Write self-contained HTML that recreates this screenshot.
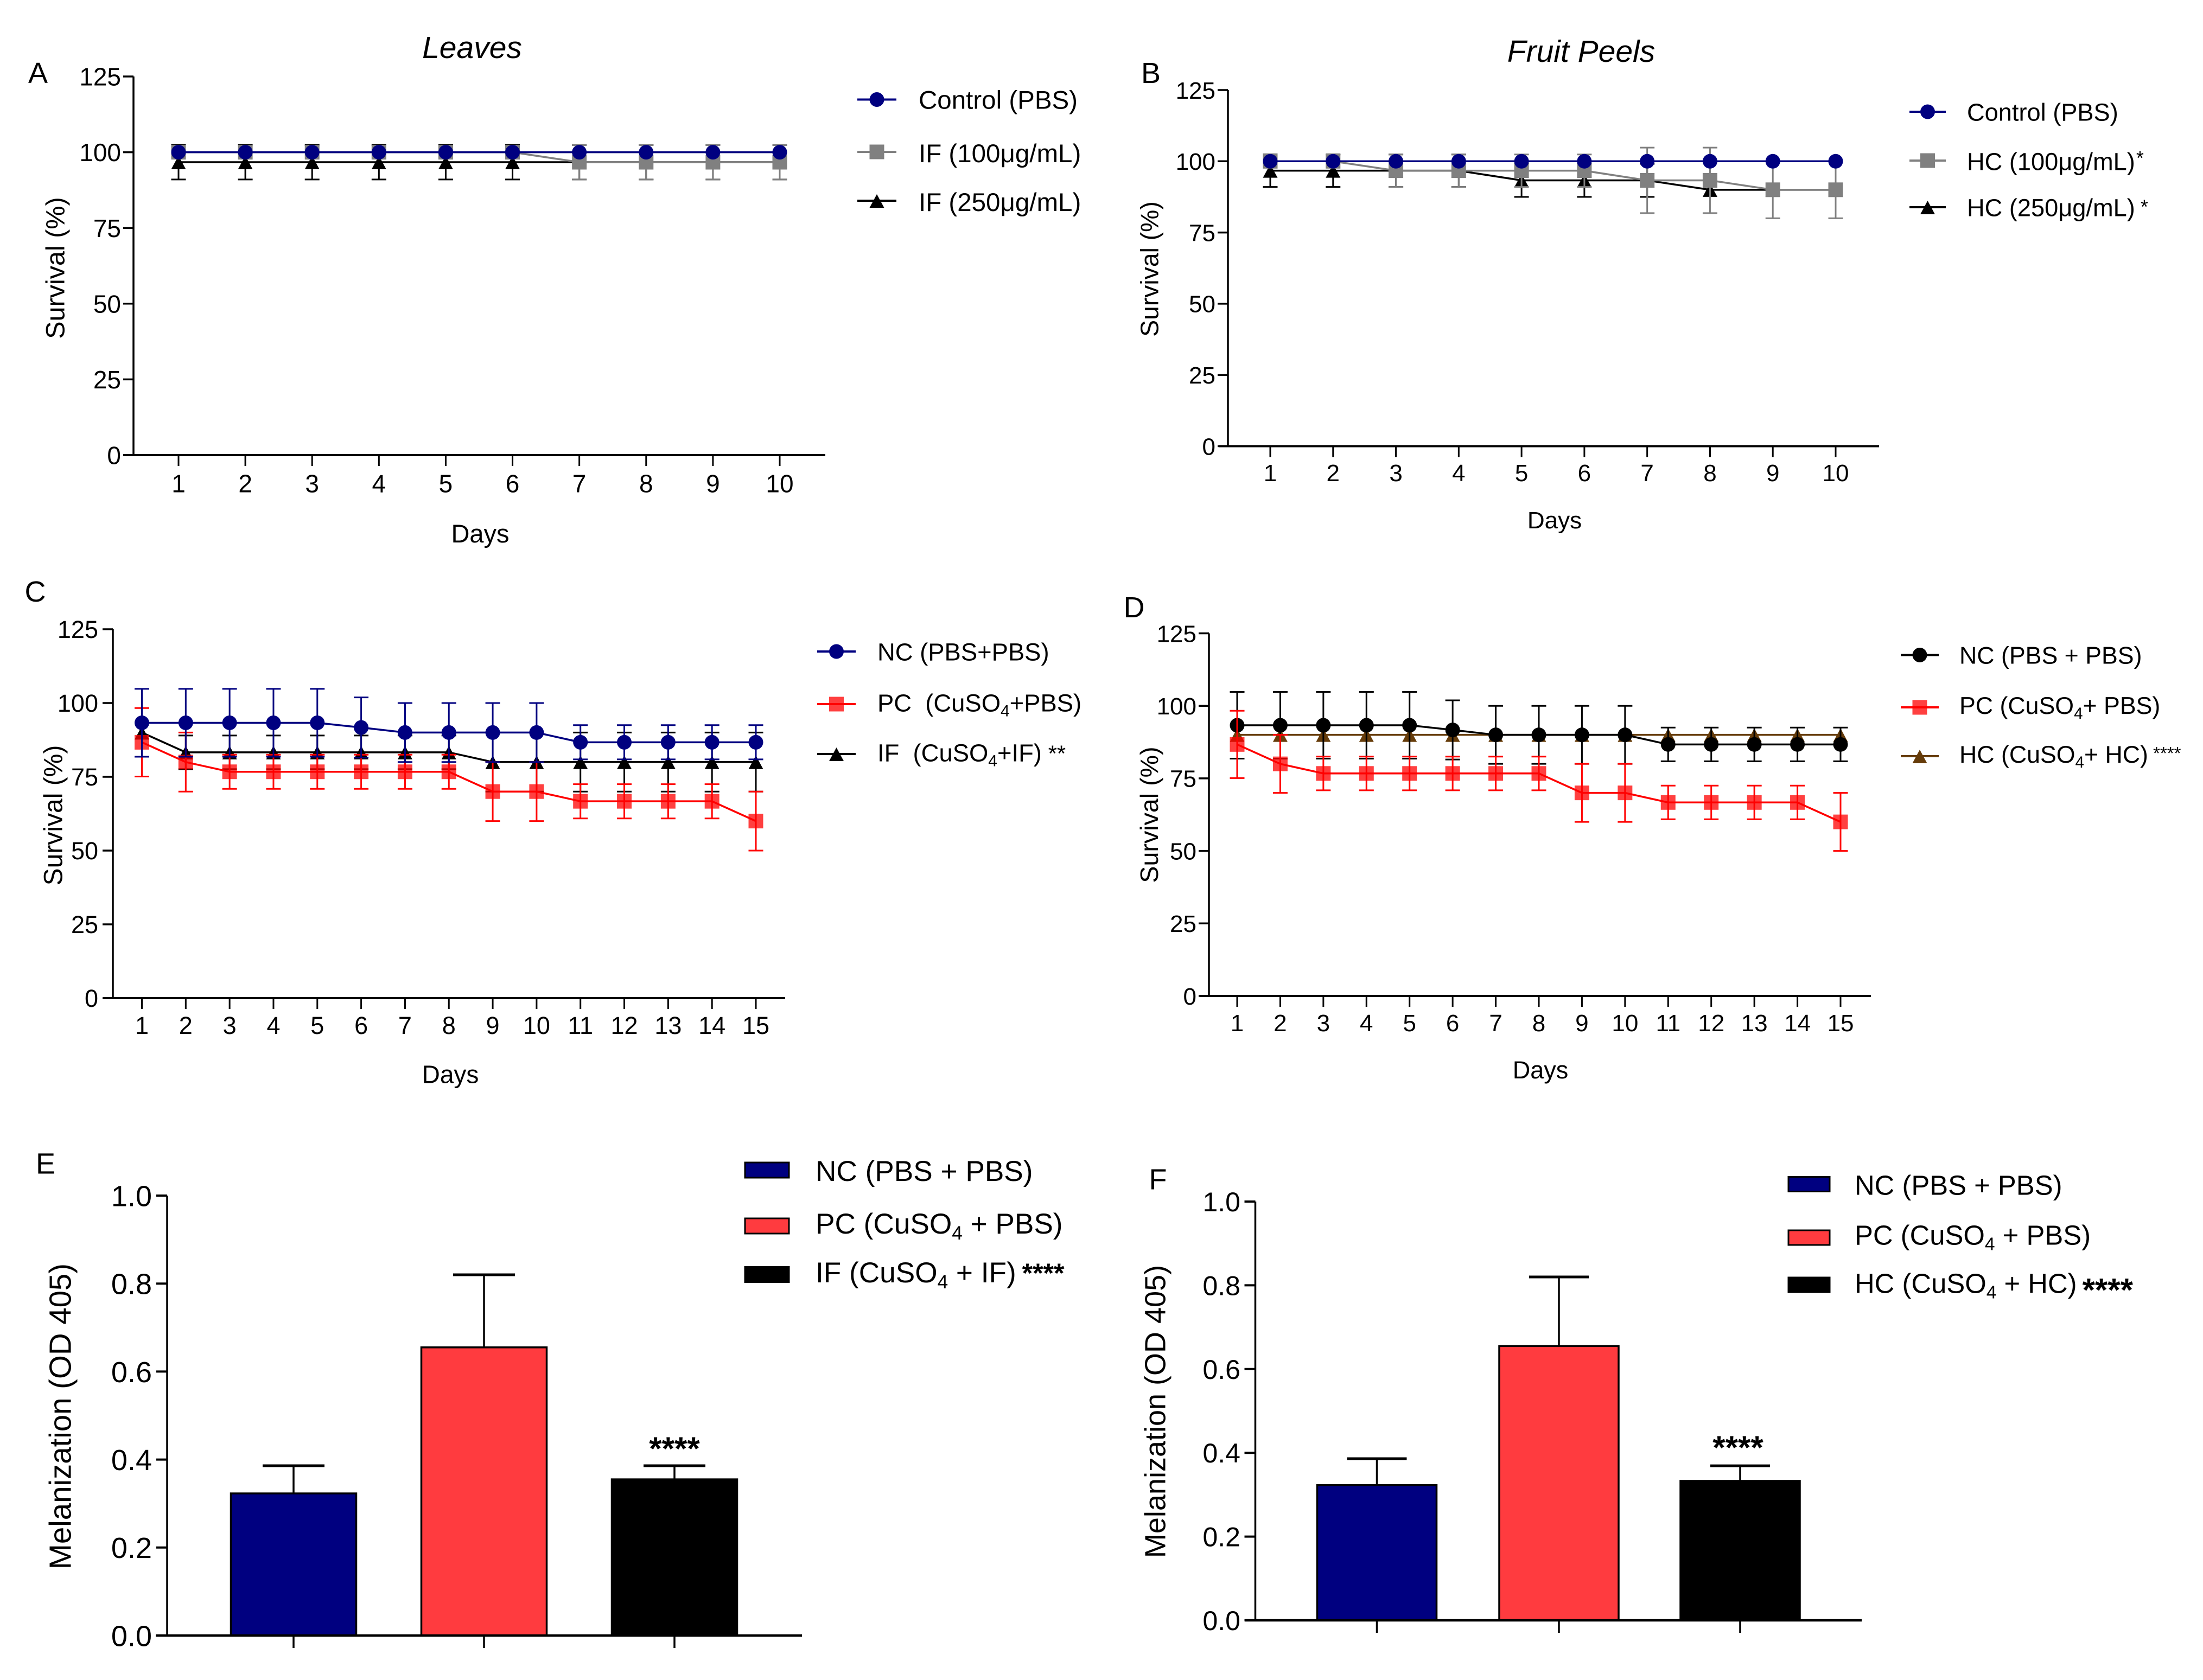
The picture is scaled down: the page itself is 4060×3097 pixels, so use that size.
<!DOCTYPE html>
<html lang="en">
<head>
<meta charset="utf-8">
<title>Survival and melanization charts</title>
<style>
html,body{margin:0;padding:0;background:#fff;width:4060px;height:3097px;overflow:hidden}
svg{display:block}
text{font-family:"Liberation Sans",Arial,sans-serif;fill:#000}
</style>
</head>
<body>
<svg id="figure" xmlns="http://www.w3.org/2000/svg" width="4060" height="3097" viewBox="0 0 4060 3097"></svg>
<script>
// ---------- shared tick labels ----------
const survivalTicks = [0, 25, 50, 75, 100, 125];
const melanizationTicks = [0, 0.2, 0.4, 0.6, 0.8, 1.0];
const days10 = [1, 2, 3, 4, 5, 6, 7, 8, 9, 10];
const days15 = [1, 2, 3, 4, 5, 6, 7, 8, 9, 10, 11, 12, 13, 14, 15];

// ---------- panel A values ----------
const aControl = [100, 100, 100, 100, 100, 100, 100, 100, 100, 100];
const aControlErr = [0, 0, 0, 0, 0, 0, 0, 0, 0, 0];
const aIF100 = [100, 100, 100, 100, 100, 100, 96.7, 96.7, 96.7, 96.7];
const aIF100Err = [0, 0, 0, 0, 0, 0, 5.7, 5.7, 5.7, 5.7];
const aIF250 = [96.7, 96.7, 96.7, 96.7, 96.7, 96.7, 96.7, 96.7, 96.7, 96.7];
const aIF250Err = [5.7, 5.7, 5.7, 5.7, 5.7, 5.7, 5.7, 5.7, 5.7, 5.7];

// ---------- panel B values ----------
const bControl = [100, 100, 100, 100, 100, 100, 100, 100, 100, 100];
const bControlErr = [0, 0, 0, 0, 0, 0, 0, 0, 0, 0];
const bHC100 = [100, 100, 96.7, 96.7, 96.7, 96.7, 93.3, 93.3, 90, 90];
const bHC100Err = [0, 0, 5.7, 5.7, 5.7, 5.7, 11.5, 11.5, 10, 10];
const bHC250 = [96.7, 96.7, 96.7, 96.7, 93.3, 93.3, 93.3, 90, 90, 90];
const bHC250Err = [5.7, 5.7, 5.7, 5.7, 5.8, 5.8, 5.8, 0, 0, 0];

// ---------- panel C values ----------
const cNC = [93.3, 93.3, 93.3, 93.3, 93.3, 91.7, 90, 90, 90, 90, 86.7, 86.7, 86.7, 86.7, 86.7];
const cNCErr = [11.5, 11.5, 11.5, 11.5, 11.5, 10.2, 10, 10, 10, 10, 5.8, 5.8, 5.8, 5.8, 5.8];
const cPC = [86.7, 80, 76.7, 76.7, 76.7, 76.7, 76.7, 76.7, 70, 70, 66.7, 66.7, 66.7, 66.7, 60];
const cPCErr = [11.6, 10, 5.8, 5.8, 5.8, 5.8, 5.8, 5.8, 10, 10, 5.8, 5.8, 5.8, 5.8, 10];
const cIF = [90, 83.3, 83.3, 83.3, 83.3, 83.3, 83.3, 83.3, 80, 80, 80, 80, 80, 80, 80];
const cIFErr = [0, 5.7, 5.7, 5.7, 5.7, 5.7, 5.7, 5.7, 10, 10, 10, 10, 10, 10, 10];

// ---------- panel D values ----------
const dNC = [93.3, 93.3, 93.3, 93.3, 93.3, 91.7, 90, 90, 90, 90, 86.7, 86.7, 86.7, 86.7, 86.7];
const dNCErr = [11.5, 11.5, 11.5, 11.5, 11.5, 10.2, 10, 10, 10, 10, 5.8, 5.8, 5.8, 5.8, 5.8];
const dPC = [86.7, 80, 76.7, 76.7, 76.7, 76.7, 76.7, 76.7, 70, 70, 66.7, 66.7, 66.7, 66.7, 60];
const dPCErr = [11.6, 10, 5.8, 5.8, 5.8, 5.8, 5.8, 5.8, 10, 10, 5.8, 5.8, 5.8, 5.8, 10];
const dHC = [90, 90, 90, 90, 90, 90, 90, 90, 90, 90, 90, 90, 90, 90, 90];
const dHCErr = [0, 0, 0, 0, 0, 0, 0, 0, 0, 0, 0, 0, 0, 0, 0];

// ---------- panels E and F values ----------
const eValues = [0.323, 0.655, 0.355];
const eErrors = [0.063, 0.165, 0.031];
const fValues = [0.323, 0.655, 0.333];
const fErrors = [0.063, 0.165, 0.036];

// ---------- colours ----------
const NAVY = '#000080', GREY = '#808080', BLACK = '#000000', RED = '#ff0000', BROWN = '#663c0a';

const root = document.getElementById('figure');
const NS = 'http://www.w3.org/2000/svg';

function mk(parent, tag, attrs, name, interactable) {
  const el = document.createElementNS(NS, tag);
  for (const k in attrs) el.setAttribute(k, attrs[k]);
  
  
  parent.appendChild(el);
  return el;
}

function line(parent, x1, y1, x2, y2, color, w, name) {
  return mk(parent, 'line', {x1, y1, x2, y2, stroke: color, 'stroke-width': w}, name, false);
}

function label(parent, x, y, str, size, name, extra) {
  const t = mk(parent, 'text', Object.assign({x, y, 'font-size': size}, extra || {}), name, false);
  t.textContent = str;
  return t;
}

// Legend text: a "_4" in the string becomes a subscript; stars are an optional tail.
function richLabel(parent, x, y, str, size, name, stars) {
  const t = mk(parent, 'text', {x, y, 'font-size': size}, name, false);
  const parts = str.split('_4');
  const subSize = size * 0.66, drop = size * 0.2;
  parts.forEach(function (p, i) {
    if (i > 0) {
      const s = document.createElementNS(NS, 'tspan');
      s.setAttribute('font-size', subSize);
      s.setAttribute('dy', drop);
      s.textContent = '4';
      t.appendChild(s);
    }
    const n = document.createElementNS(NS, 'tspan');
    if (i > 0) n.setAttribute('dy', -drop);
    n.textContent = p;
    t.appendChild(n);
  });
  if (stars) {
    const s = document.createElementNS(NS, 'tspan');
    s.setAttribute('font-size', stars.size);
    s.setAttribute('dy', stars.dy);
    s.setAttribute('dx', stars.dx || 0);
    if (stars.bold) s.setAttribute('font-weight', 'bold');
    s.textContent = stars.text;
    t.appendChild(s);
  }
  return t;
}

function marker(parent, shape, x, y, color, name) {
  if (shape === 'circle') {
    return mk(parent, 'circle', {cx: x, cy: y, r: 13.5, fill: color}, name, false);
  }
  if (shape === 'square') {
    return mk(parent, 'rect', {x: x - 13.5, y: y - 13.5, width: 27, height: 27, fill: color, 'fill-opacity': color === RED ? 0.75 : 1}, name, false);
  }
  return mk(parent, 'polygon', {points: (x) + ',' + (y - 12) + ' ' + (x - 13.5) + ',' + (y + 13) + ' ' + (x + 13.5) + ',' + (y + 13), fill: color}, name, false);
}

function linePanel(c) {
  const g = mk(root, 'g', {}, c.id + '-panel', false);
  const n = c.days.length;
  const X = function (d) { return c.x1 + (d - 1) * (c.xN - c.x1) / (n - 1); };
  const Y = function (v) { return c.y0 - v * (c.y0 - c.yTop) / 125; };

  // axes
  line(g, c.axisX, Y(125), c.axisX, c.y0 + 2, BLACK, 3.5, c.id + '-y-axis');
  line(g, c.xStart, c.y0, c.xEnd, c.y0, BLACK, 4, c.id + '-x-axis');
  survivalTicks.forEach(function (v) {
    line(g, c.axisX - 19, Y(v), c.axisX, Y(v), BLACK, 3.5, c.id + '-y-tick');
    label(g, c.yLabelRight, Y(v) + c.tickFont * 0.36, String(v), c.tickFont, c.id + '-y-tick-label', {'text-anchor': 'end'});
  });
  c.days.forEach(function (d) {
    line(g, X(d), c.y0, X(d), c.y0 + 20, BLACK, 3, c.id + '-x-tick');
    label(g, X(d), c.xLabelY + c.tickFont * 0.36, String(d), c.tickFont, c.id + '-x-tick-label', {'text-anchor': 'middle'});
  });

  // series
  c.series.forEach(function (s) {
    const sg = mk(g, 'g', {}, c.id + '-series-' + s.key, false);
    const pts = c.days.map(function (d, i) { return X(d) + ',' + Y(s.vals[i]); }).join(' ');
    s.errs.forEach(function (e, i) {
      if (!e) return;
      const x = X(c.days[i]);
      const hi = Y(s.vals[i] + e), lo = Y(s.vals[i] - e);
      line(sg, x, hi, x, lo, s.color, 3, 'error-bar');
      line(sg, x - 13.5, hi, x + 13.5, hi, s.color, 3, 'error-cap-top');
      line(sg, x - 13.5, lo, x + 13.5, lo, s.color, 3, 'error-cap-bottom');
    });
    mk(sg, 'polyline', {points: pts, fill: 'none', stroke: s.color, 'stroke-width': 3.5}, 'series-line', false);
    s.vals.forEach(function (v, i) {
      marker(sg, s.shape, X(c.days[i]), Y(v), s.color, 'data-point');
    });
  });

  // text
  label(g, 0, 0, 'Survival (%)', c.yTitle.size, c.id + '-y-axis-title', {'text-anchor': 'middle', transform: 'translate(' + (c.yTitle.x + c.yTitle.size * 0.36) + ',' + c.yTitle.y + ') rotate(-90)'});
  label(g, c.xTitle.x, c.xTitle.y + c.xTitle.size * 0.36, 'Days', c.xTitle.size, c.id + '-x-axis-title', {'text-anchor': 'middle'});
  label(g, c.letter.x, c.letter.y + 19, c.letter.t, 54, c.id + '-panel-letter', {'text-anchor': 'middle'});
  if (c.title) {
    label(g, c.title.x, c.title.y + 20, c.title.t, 57, c.id + '-title', {'text-anchor': 'middle', 'font-style': 'italic'});
  }

  // legend
  c.legend.forEach(function (l) {
    const lg = mk(g, 'g', {}, c.id + '-legend-entry', true);
    line(lg, c.legendX[0], l.y, c.legendX[1], l.y, l.color, 4, 'legend-line');
    marker(lg, l.shape, (c.legendX[0] + c.legendX[1]) / 2, l.y, l.color, 'legend-marker');
    richLabel(lg, c.legendTextX, l.y + (l.tdy || 0) + c.legendFont * 0.36, l.text, c.legendFont, 'legend-label', l.stars);
  });
}

function barPanel(c) {
  const g = mk(root, 'g', {}, c.id + '-panel', false);
  const Y = function (v) { return c.y0 - v * (c.y0 - c.yTop); };

  c.values.forEach(function (v, i) {
    const x = c.ticks[i], top = Y(v), hi = Y(v + c.errors[i]);
    line(g, x, top, x, hi, BLACK, 3.5, c.id + '-error-bar');
    line(g, x - c.capW / 2, hi, x + c.capW / 2, hi, BLACK, 5, c.id + '-error-cap');
    mk(g, 'rect', {x: x - c.barW / 2, y: top, width: c.barW, height: c.y0 - top, fill: c.colors[i], stroke: BLACK, 'stroke-width': 3.5}, c.id + '-bar-' + c.names[i], false);
    line(g, x, c.y0, x, c.y0 + 23, BLACK, 3.5, c.id + '-x-tick');
  });
  line(g, c.axisX, Y(1), c.axisX, c.y0 + 2, BLACK, 3.5, c.id + '-y-axis');
  line(g, c.xStart, c.y0, c.xEnd, c.y0, BLACK, 4.5, c.id + '-x-axis');
  melanizationTicks.forEach(function (v) {
    line(g, c.axisX - 20, Y(v), c.axisX, Y(v), BLACK, 4, c.id + '-y-tick');
    label(g, c.yLabelRight, Y(v) + c.tickFont * 0.36, v.toFixed(1), c.tickFont, c.id + '-y-tick-label', {'text-anchor': 'end'});
  });
  label(g, 0, 0, 'Melanization (OD 405)', c.yTitle.size, c.id + '-y-axis-title', {'text-anchor': 'middle', transform: 'translate(' + (c.yTitle.x + c.yTitle.size * 0.36) + ',' + c.yTitle.y + ') rotate(-90)'});
  label(g, c.letter.x, c.letter.y + 19, c.letter.t, 54, c.id + '-panel-letter', {'text-anchor': 'middle'});
  label(g, c.sig.x, c.sig.y + c.sig.size * 0.58, '****', c.sig.size, c.id + '-significance', {'text-anchor': 'middle', 'font-weight': 'bold'});

  c.legend.forEach(function (l) {
    const lg = mk(g, 'g', {}, c.id + '-legend-entry', true);
    mk(lg, 'rect', {x: c.swatch.x, y: l.y - c.swatch.h / 2, width: c.swatch.w, height: c.swatch.h, fill: l.color, stroke: BLACK, 'stroke-width': 3}, 'legend-swatch', false);
    richLabel(lg, c.legendTextX, l.textY + c.legendFont * 0.36, l.text, c.legendFont, 'legend-label', l.stars);
  });
}

linePanel({
  id: 'a', days: days10, axisX: 246, xStart: 227, xEnd: 1521, x1: 329, xN: 1437, y0: 839, yTop: 141,
  tickFont: 46, yLabelRight: 223, xLabelY: 891,
  yTitle: {x: 101, y: 494, size: 48.5}, xTitle: {x: 885, y: 983, size: 47},
  letter: {x: 70, y: 134, t: 'A'}, title: {x: 870, y: 87, t: 'Leaves'},
  series: [
    {key: 'if-250', color: BLACK, shape: 'triangle', vals: aIF250, errs: aIF250Err},
    {key: 'if-100', color: GREY, shape: 'square', vals: aIF100, errs: aIF100Err},
    {key: 'control', color: NAVY, shape: 'circle', vals: aControl, errs: aControlErr}
  ],
  legendX: [1580, 1652], legendTextX: 1693, legendFont: 47.5,
  legend: [
    {y: 183.5, color: NAVY, shape: 'circle', text: 'Control (PBS)', tdy: 0},
    {y: 280, color: GREY, shape: 'square', text: 'IF (100μg/mL)', tdy: 2},
    {y: 370, color: BLACK, shape: 'triangle', text: 'IF (250μg/mL)', tdy: 2}
  ]
});

linePanel({
  id: 'b', days: days10, axisX: 2263, xStart: 2246, xEnd: 3463, x1: 2341, xN: 3383, y0: 822.5, yTop: 166,
  tickFont: 44, yLabelRight: 2240, xLabelY: 871,
  yTitle: {x: 2118, y: 496, size: 46.3}, xTitle: {x: 2865, y: 958, size: 44},
  letter: {x: 2121, y: 134, t: 'B'}, title: {x: 2914, y: 94, t: 'Fruit Peels'},
  series: [
    {key: 'hc-250', color: BLACK, shape: 'triangle', vals: bHC250, errs: bHC250Err},
    {key: 'hc-100', color: GREY, shape: 'square', vals: bHC100, errs: bHC100Err},
    {key: 'control', color: NAVY, shape: 'circle', vals: bControl, errs: bControlErr}
  ],
  legendX: [3519, 3586], legendTextX: 3625, legendFont: 45.2,
  legend: [
    {y: 206, color: NAVY, shape: 'circle', text: 'Control (PBS)'},
    {y: 296, color: GREY, shape: 'square', text: 'HC (100μg/mL)', tdy: 1, stars: {text: '*', size: 36, dy: -10, dx: 2}},
    {y: 382, color: BLACK, shape: 'triangle', text: 'HC (250μg/mL)', stars: {text: ' *', size: 36, dy: -5, dx: 0}}
  ]
});

linePanel({
  id: 'c', days: days15, axisX: 208, xStart: 190, xEnd: 1447, x1: 261.5, xN: 1393, y0: 1840, yTop: 1160,
  tickFont: 45, yLabelRight: 181, xLabelY: 1890,
  yTitle: {x: 97, y: 1503, size: 48}, xTitle: {x: 830, y: 1980, size: 46},
  letter: {x: 65, y: 1090, t: 'C'},
  series: [
    {key: 'if', color: BLACK, shape: 'triangle', vals: cIF, errs: cIFErr},
    {key: 'pc', color: RED, shape: 'square', vals: cPC, errs: cPCErr},
    {key: 'nc', color: NAVY, shape: 'circle', vals: cNC, errs: cNCErr}
  ],
  legendX: [1506, 1577], legendTextX: 1617, legendFont: 45.4,
  legend: [
    {y: 1201, color: NAVY, shape: 'circle', text: 'NC (PBS+PBS)'},
    {y: 1298, color: RED, shape: 'square', text: 'PC\u00a0 (CuSO_4+PBS)', tdy: -3},
    {y: 1390, color: BLACK, shape: 'triangle', text: 'IF\u00a0 (CuSO_4+IF)', tdy: -3, stars: {text: ' **', size: 42, dy: 0, dx: 0}}
  ]
});

linePanel({
  id: 'd', days: days15, axisX: 2228, xStart: 2211, xEnd: 3448, x1: 2280, xN: 3392, y0: 1836, yTop: 1167.5,
  tickFont: 44, yLabelRight: 2205, xLabelY: 1885,
  yTitle: {x: 2117, y: 1502, size: 46.6}, xTitle: {x: 2839, y: 1972, size: 45},
  letter: {x: 2090, y: 1119, t: 'D'},
  series: [
    {key: 'hc', color: BROWN, shape: 'triangle', vals: dHC, errs: dHCErr},
    {key: 'nc', color: BLACK, shape: 'circle', vals: dNC, errs: dNCErr},
    {key: 'pc', color: RED, shape: 'square', vals: dPC, errs: dPCErr}
  ],
  legendX: [3503, 3573], legendTextX: 3611, legendFont: 44.7,
  legend: [
    {y: 1207.5, color: BLACK, shape: 'circle', text: 'NC (PBS + PBS)'},
    {y: 1304, color: RED, shape: 'square', text: 'PC (CuSO_4+ PBS)', tdy: -4},
    {y: 1394, color: BROWN, shape: 'triangle', text: 'HC (CuSO_4+ HC)', tdy: -4, stars: {text: ' ****', size: 33, dy: -6, dx: 0}}
  ]
});

barPanel({
  id: 'e', axisX: 308, xStart: 287, xEnd: 1478, y0: 3015, yTop: 2204,
  ticks: [541, 892, 1243], barW: 231, capW: 114,
  values: eValues, errors: eErrors, colors: [NAVY, '#ff3b3f', BLACK], names: ['nc', 'pc', 'if'],
  tickFont: 54, yLabelRight: 280,
  yTitle: {x: 110, y: 2611, size: 56.4},
  letter: {x: 84, y: 2144.5, t: 'E'}, sig: {x: 1243, y: 2656, size: 60},
  swatch: {x: 1373, w: 81, h: 28}, legendTextX: 1503, legendFont: 53.2,
  legend: [
    {y: 2157, textY: 2158, color: NAVY, text: 'NC (PBS + PBS)'},
    {y: 2260, textY: 2255, color: '#ff3b3f', text: 'PC (CuSO_4 + PBS)'},
    {y: 2349.5, textY: 2345, color: BLACK, text: 'IF (CuSO_4 + IF)', stars: {text: ' ****', size: 50, dy: 0, dx: -3, bold: true}}
  ]
});

barPanel({
  id: 'f', axisX: 2313.5, xStart: 2294, xEnd: 3431, y0: 2987, yTop: 2215,
  ticks: [2537.5, 2873, 3207], barW: 220, capW: 110,
  values: fValues, errors: fErrors, colors: [NAVY, '#ff3b3f', BLACK], names: ['nc', 'pc', 'hc'],
  tickFont: 50, yLabelRight: 2286,
  yTitle: {x: 2128, y: 2602, size: 54},
  letter: {x: 2134, y: 2173.5, t: 'F'}, sig: {x: 3203, y: 2654, size: 60},
  swatch: {x: 3296, w: 76, h: 27}, legendTextX: 3418, legendFont: 50.8,
  legend: [
    {y: 2183, textY: 2184, color: NAVY, text: 'NC (PBS + PBS)'},
    {y: 2281.5, textY: 2276, color: '#ff3b3f', text: 'PC (CuSO_4 + PBS)'},
    {y: 2368.5, textY: 2365, color: BLACK, text: 'HC (CuSO_4 + HC)', stars: {text: '****', size: 60, dy: 15, dx: 10, bold: true}}
  ]
});
</script>
</body>
</html>
